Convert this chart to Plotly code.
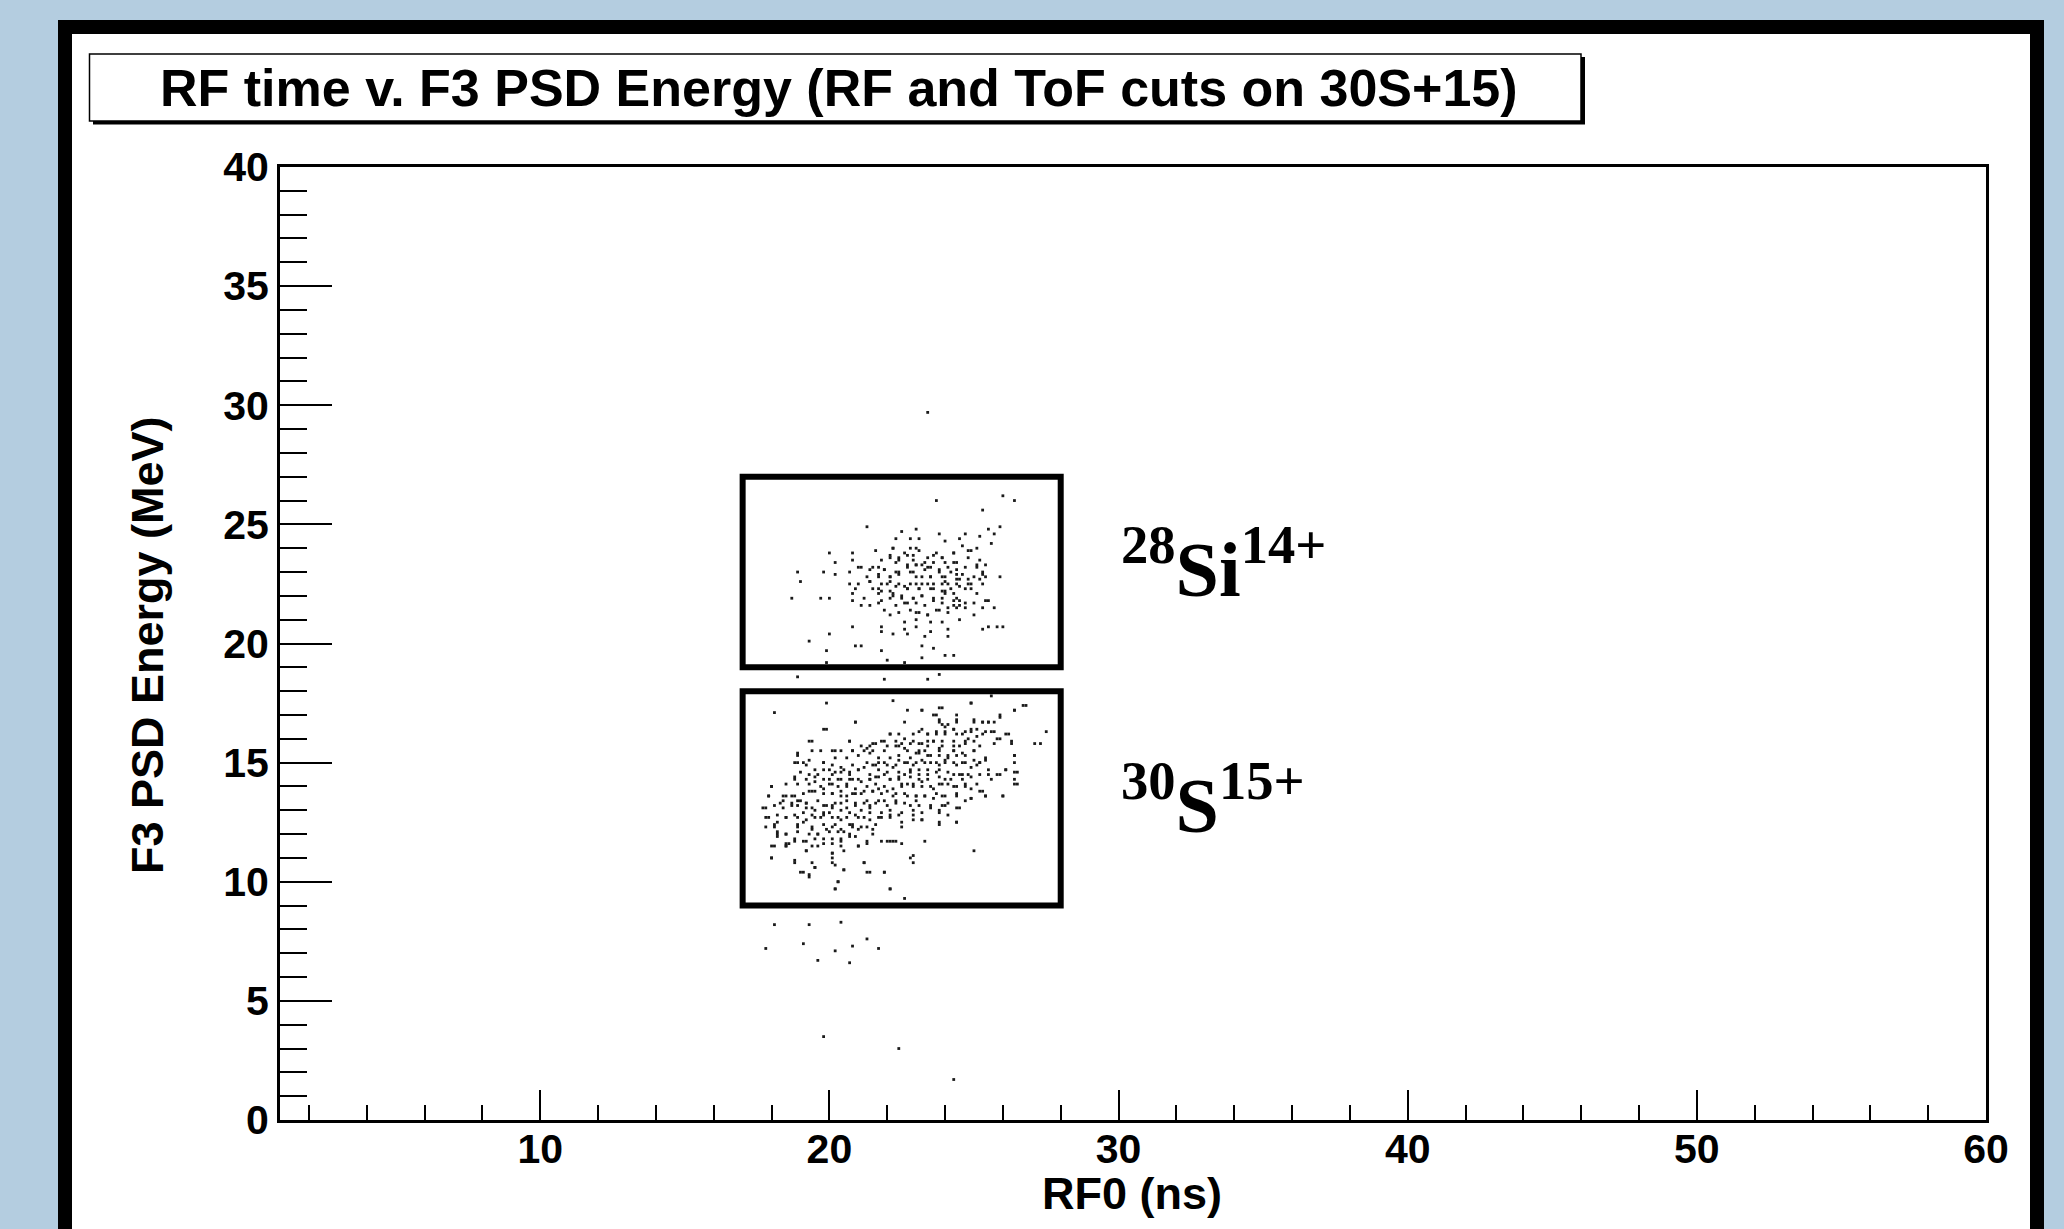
import plotly.graph_objects as go

# ---------------- data (RF0 in ns, F3 PSD energy in MeV) ----------------
si_points = [
    (26.0, 26.2), (26.4, 26.0), (23.7, 26.0), (25.3, 25.6), (25.9, 24.9), (21.3, 24.9), (23.0, 24.8),
    (22.5, 24.7), (23.8, 24.6), (25.5, 24.8), (25.7, 24.6), (24.7, 24.6), (25.2, 24.5), (22.3, 24.4),
    (22.8, 24.4), (23.1, 24.4), (24.0, 24.3), (24.5, 24.4), (25.6, 24.2), (24.6, 24.1), (25.1, 24.0),
    (24.9, 23.9), (24.8, 23.9), (22.2, 24.0), (22.8, 24.0), (23.1, 23.9), (21.6, 23.9), (20.8, 23.8),
    (24.3, 23.8), (20.0, 23.8), (22.7, 23.7), (22.9, 23.7), (23.4, 23.6), (23.6, 23.7), (23.9, 23.6),
    (24.8, 23.6), (22.1, 23.6), (22.4, 23.6), (25.2, 23.5), (20.8, 23.5), (20.2, 23.4), (21.0, 23.2),
    (21.7, 23.2), (22.3, 23.4), (22.7, 23.3), (23.0, 23.3), (23.2, 23.3), (23.5, 23.2), (24.0, 23.4),
    (24.4, 23.4), (25.1, 23.3), (25.4, 23.3), (21.4, 23.1), (21.9, 23.1), (22.4, 23.0), (22.8, 23.0),
    (23.3, 23.1), (23.8, 23.0), (24.2, 23.0), (24.6, 22.9), (25.3, 23.0), (19.8, 23.0), (20.2, 22.9),
    (20.7, 23.0), (18.9, 23.0), (21.7, 22.8), (22.1, 22.8), (23.0, 22.8), (23.5, 22.8), (23.9, 22.8),
    (24.4, 22.7), (25.0, 22.8), (25.4, 22.8), (25.9, 22.8), (19.0, 22.6), (20.7, 22.5), (21.0, 22.5),
    (21.4, 22.6), (22.0, 22.5), (22.4, 22.5), (22.8, 22.5), (23.2, 22.5), (23.6, 22.5), (24.0, 22.6),
    (24.4, 22.5), (24.8, 22.5), (25.3, 22.5), (20.9, 22.3), (21.7, 22.3), (22.1, 22.2), (22.7, 22.3),
    (23.1, 22.3), (23.5, 22.3), (23.9, 22.2), (24.2, 22.3), (24.9, 22.3), (18.7, 21.9), (19.7, 21.9),
    (20.0, 21.9), (20.8, 22.1), (21.2, 21.9), (21.7, 22.1), (22.2, 22.0), (22.5, 21.9), (22.9, 21.9),
    (23.2, 22.0), (23.6, 21.9), (24.0, 22.1), (24.4, 21.9), (25.1, 22.1), (25.4, 21.8), (20.8, 21.8),
    (21.1, 21.6), (21.4, 21.6), (21.7, 21.7), (22.3, 21.6), (22.7, 21.7), (23.0, 21.7), (23.3, 21.6),
    (23.9, 21.7), (24.3, 21.6), (24.7, 21.7), (25.0, 21.7), (25.5, 21.8), (21.9, 21.4), (22.1, 21.2),
    (22.4, 21.3), (22.8, 21.4), (23.1, 21.3), (23.4, 21.2), (23.7, 21.4), (24.1, 21.3), (24.4, 21.5),
    (24.7, 21.5), (25.3, 21.5), (25.7, 21.5), (25.0, 21.2), (24.5, 21.0), (23.0, 21.0), (23.5, 20.9),
    (23.9, 20.9), (22.6, 20.9), (20.8, 20.7), (21.8, 20.7), (21.8, 20.5), (22.6, 20.6), (23.0, 20.7),
    (23.5, 20.5), (24.1, 20.6), (25.3, 20.6), (25.5, 20.7), (25.8, 20.7), (26.0, 20.7), (20.0, 20.4),
    (22.2, 20.4), (22.7, 20.4), (23.3, 20.3), (24.1, 20.3), (19.3, 20.1), (20.9, 19.9), (21.1, 19.9),
    (21.8, 19.7), (23.2, 19.9), (23.6, 19.8), (19.9, 19.7), (23.2, 19.4), (24.0, 19.5), (24.3, 19.5),
    (22.0, 19.3), (22.6, 19.2), (19.9, 19.2),
    (22.2, 24.0), (23.0, 24.0), (23.7, 23.8), (24.3, 23.8), (22.6, 23.8), (22.1, 23.7), (21.8, 23.5),
    (22.4, 23.5), (22.9, 23.5), (23.3, 23.4), (23.9, 23.6), (24.3, 23.4), (23.6, 23.4), (21.1, 23.2),
    (21.5, 23.2), (21.9, 23.1), (22.3, 23.0), (22.7, 23.2), (23.0, 23.3), (23.4, 23.2), (23.8, 23.1),
    (24.1, 23.2), (24.4, 23.1), (24.7, 23.2), (25.1, 23.2), (25.3, 22.9), (21.3, 22.8), (21.7, 22.9),
    (22.1, 22.8), (22.4, 22.9), (22.9, 23.0), (23.2, 22.8), (23.5, 22.8), (24.0, 22.8), (24.4, 22.9),
    (24.5, 22.7), (24.8, 22.7), (25.2, 22.7), (21.4, 22.6), (21.8, 22.5), (22.1, 22.6), (22.3, 22.4),
    (22.6, 22.4), (23.0, 22.5), (23.4, 22.5), (23.9, 22.5), (24.1, 22.5), (24.5, 22.4), (24.9, 22.5),
    (21.5, 22.3), (21.8, 22.2), (22.2, 22.1), (22.7, 22.3), (23.1, 22.3), (23.6, 22.3), (24.0, 22.2),
    (24.3, 22.1), (24.7, 22.3), (21.8, 21.8), (22.1, 21.9), (22.5, 22.0), (22.9, 21.9), (23.2, 22.0),
    (23.6, 21.8), (23.9, 21.9), (24.3, 21.8), (24.5, 21.8), (22.6, 21.7), (23.0, 21.3), (23.4, 21.2),
    (23.8, 21.4), (24.1, 21.5), (24.5, 21.6),
]

s_points = [
    (25.6, 17.8), (22.2, 17.6), (19.9, 17.5), (18.1, 17.1), (24.9, 17.5), (26.7, 17.4), (26.4, 17.2),
    (22.7, 17.2), (23.2, 17.2), (23.8, 17.3), (23.7, 17.0), (25.9, 16.9), (20.9, 16.7), (22.6, 16.7),
    (23.8, 16.8), (24.4, 16.8), (25.0, 16.7), (25.3, 16.7), (25.5, 16.7), (24.1, 16.6), (23.9, 16.6),
    (19.9, 16.4), (23.2, 16.4), (23.4, 16.2), (24.0, 16.3), (24.3, 16.4), (24.7, 16.3), (24.9, 16.4),
    (25.3, 16.2), (25.6, 16.3), (26.2, 16.2), (27.5, 16.3), (22.1, 16.2), (22.4, 16.2), (22.6, 16.0),
    (22.9, 16.2), (23.7, 16.2), (24.4, 16.2), (24.8, 16.0), (25.1, 16.1), (25.8, 16.0), (19.3, 15.9),
    (20.7, 15.9), (21.1, 15.7), (21.5, 15.8), (21.8, 15.9), (22.0, 15.7), (22.5, 15.8), (22.9, 15.9),
    (23.2, 15.8), (23.6, 15.9), (23.9, 15.9), (24.3, 15.9), (24.7, 15.8), (26.3, 15.8), (27.1, 15.8),
    (27.3, 15.8), (20.2, 15.5), (19.7, 15.5), (18.9, 15.3), (20.8, 15.5), (21.3, 15.6), (21.5, 15.5),
    (21.9, 15.5), (22.3, 15.7), (22.6, 15.6), (23.1, 15.5), (23.4, 15.7), (23.8, 15.6), (24.3, 15.5),
    (24.5, 15.7), (25.0, 15.5), (18.8, 15.0), (19.3, 15.1), (19.8, 15.0), (20.2, 15.2), (20.6, 15.2),
    (21.0, 15.3), (21.4, 15.4), (21.7, 15.2), (22.1, 15.2), (22.4, 15.3), (22.8, 15.2), (23.1, 15.4),
    (23.4, 15.3), (23.8, 15.3), (24.1, 15.2), (24.4, 15.3), (24.7, 15.3), (25.4, 15.2), (26.4, 15.3),
    (26.4, 15.0), (25.2, 15.0), (19.2, 14.9), (20.1, 14.9), (20.4, 14.8), (20.8, 14.9), (21.3, 15.0),
    (21.6, 14.9), (21.9, 15.0), (22.3, 14.9), (22.6, 15.0), (23.0, 15.0), (23.3, 15.0), (23.7, 15.0),
    (24.0, 15.0), (24.4, 14.9), (24.7, 15.0), (25.1, 14.9), (26.1, 14.7), (26.4, 14.6), (19.0, 14.6),
    (19.5, 14.7), (19.8, 14.7), (20.1, 14.5), (20.4, 14.6), (20.7, 14.5), (21.0, 14.7), (21.4, 14.5),
    (21.7, 14.7), (22.0, 14.6), (22.4, 14.6), (22.8, 14.7), (23.1, 14.7), (23.4, 14.7), (23.8, 14.7),
    (24.1, 14.6), (24.5, 14.5), (24.8, 14.5), (25.5, 14.7), (25.8, 14.5), (25.6, 14.3), (18.8, 14.4),
    (19.5, 14.4), (20.0, 14.3), (20.3, 14.3), (20.7, 14.3), (21.0, 14.3), (21.4, 14.3), (21.7, 14.4),
    (22.1, 14.3), (22.4, 14.3), (22.8, 14.4), (23.1, 14.3), (23.4, 14.3), (23.8, 14.4), (24.2, 14.3),
    (24.6, 14.3), (18.0, 14.0), (18.5, 14.1), (18.9, 14.1), (19.3, 14.1), (19.7, 14.0), (20.0, 14.1),
    (20.3, 14.0), (20.6, 14.0), (20.9, 13.9), (21.3, 14.0), (21.6, 14.1), (21.9, 14.0), (22.2, 13.9),
    (22.5, 14.1), (22.9, 14.0), (23.2, 14.0), (23.6, 13.9), (23.9, 14.1), (24.3, 14.0), (24.7, 14.0),
    (25.1, 14.1), (25.2, 13.8), (26.4, 14.1), (17.9, 13.6), (18.4, 13.6), (18.8, 13.6), (19.1, 13.7),
    (19.4, 13.8), (19.8, 13.7), (20.1, 13.7), (20.4, 13.6), (20.8, 13.7), (21.1, 13.7), (21.5, 13.8),
    (21.8, 13.7), (22.2, 13.6), (22.6, 13.7), (23.0, 13.6), (23.3, 13.6), (23.7, 13.7), (24.0, 13.6),
    (24.4, 13.7), (24.9, 13.5), (25.4, 13.6), (26.0, 13.6), (17.8, 13.1), (18.1, 13.2), (18.4, 13.4),
    (18.7, 13.3), (18.9, 13.4), (19.2, 13.3), (19.6, 13.4), (19.9, 13.2), (20.2, 13.3), (20.6, 13.4),
    (20.9, 13.3), (21.3, 13.4), (21.6, 13.3), (21.9, 13.4), (22.3, 13.4), (22.6, 13.3), (23.0, 13.4),
    (23.5, 13.1), (23.9, 13.2), (24.1, 13.3), (24.5, 13.1), (19.2, 13.1), (19.5, 13.0), (19.8, 12.9),
    (20.1, 13.1), (20.4, 13.0), (20.7, 12.9), (21.1, 13.0), (21.4, 13.1), (21.8, 12.9), (22.1, 13.0),
    (22.5, 12.9), (22.9, 13.0), (23.2, 12.9), (17.8, 12.7), (18.2, 12.5), (18.5, 12.7), (18.8, 12.8),
    (19.2, 12.6), (19.5, 12.7), (19.8, 12.8), (20.1, 12.7), (20.4, 12.6), (20.7, 12.4), (21.0, 12.7),
    (21.4, 12.6), (21.8, 12.7), (22.1, 12.7), (22.5, 12.5), (22.9, 12.6), (23.2, 12.6), (23.8, 12.4),
    (24.4, 12.5), (22.5, 12.3), (18.1, 12.3), (18.9, 12.4), (19.4, 12.3), (19.8, 12.4), (20.1, 12.3),
    (20.4, 12.2), (20.8, 12.4), (21.1, 12.3), (21.5, 12.2), (18.2, 12.0), (18.5, 12.0), (18.9, 12.1),
    (19.3, 12.0), (19.6, 12.0), (20.0, 12.1), (20.3, 12.1), (20.7, 12.0), (20.9, 11.9), (21.3, 11.6),
    (21.5, 12.0), (21.8, 11.7), (22.1, 11.7), (22.3, 11.7), (22.5, 11.6), (23.3, 11.7), (18.5, 11.6),
    (18.8, 11.7), (19.2, 11.7), (19.5, 11.8), (19.8, 11.8), (20.1, 11.6), (20.4, 11.7), (18.1, 11.5),
    (18.5, 11.5), (19.2, 11.3), (20.1, 11.2), (20.5, 11.3), (21.0, 11.5), (18.0, 11.0), (18.8, 10.9),
    (20.1, 11.0), (20.2, 10.7), (21.2, 10.8), (22.8, 11.0), (22.9, 11.1), (22.9, 10.8), (25.0, 11.3),
    (19.1, 10.4), (19.3, 10.2), (19.5, 10.6), (20.5, 10.5), (21.4, 10.4), (21.9, 10.4), (20.3, 10.0),
    (20.2, 9.7), (22.1, 9.7), (22.6, 9.3),
    # additional points read from the left half of the cut
    (18.9, 15.4), (18.9, 15.0), (19.1, 15.0), (19.4, 15.5), (19.8, 15.0), (20.1, 15.5), (20.4, 15.5),
    (20.7, 15.9), (20.9, 16.7), (19.8, 16.4), (19.4, 15.9), (20.8, 15.5), (21.2, 15.5), (21.4, 15.7),
    (21.6, 15.8), (21.9, 15.9), (22.1, 16.2), (22.3, 15.9), (22.4, 15.7), (20.0, 14.7), (20.2, 14.6),
    (20.5, 14.7), (20.7, 14.6), (21.0, 14.7), (21.2, 14.8), (21.5, 14.9), (21.7, 15.0), (22.0, 14.9),
    (22.2, 14.8), (22.4, 15.1), (19.3, 14.5), (19.6, 14.5), (19.2, 14.3), (19.5, 14.2), (19.8, 14.3),
    (20.1, 14.1), (20.4, 14.3), (20.6, 14.1), (20.8, 14.3), (21.1, 14.2), (21.4, 14.3), (21.6, 14.4),
    (21.9, 14.5), (22.1, 14.3), (22.4, 14.4), (18.8, 14.3), (18.5, 13.6), (18.7, 13.6), (19.0, 13.4),
    (19.3, 13.8), (19.5, 13.8), (19.8, 13.9), (20.1, 13.7), (20.4, 13.8), (20.6, 13.6), (20.9, 13.7),
    (21.2, 13.8), (21.5, 13.8), (21.7, 13.9), (22.0, 13.8), (22.3, 13.7), (22.5, 14.0), (17.9, 13.6),
    (18.0, 14.0), (18.3, 13.3), (17.7, 13.1), (18.4, 13.1), (18.7, 13.2), (18.9, 13.2), (19.2, 13.3),
    (19.4, 13.1), (19.8, 13.2), (20.1, 13.2), (20.4, 13.3), (20.6, 13.1), (20.9, 13.2), (21.2, 13.3),
    (21.4, 13.2), (21.7, 13.4), (22.0, 13.2), (22.3, 13.3), (22.4, 12.8), (17.9, 12.7), (18.2, 12.8),
    (18.5, 12.7), (18.9, 12.7), (19.1, 12.9), (19.4, 12.8), (19.7, 12.7), (20.0, 12.9), (20.3, 12.7),
    (20.6, 12.7), (20.9, 12.8), (21.2, 12.7), (21.4, 12.9), (21.7, 12.7), (22.1, 12.8), (18.1, 12.4),
    (17.8, 12.3), (18.2, 12.1), (18.5, 12.0), (18.9, 12.3), (19.1, 12.5), (19.4, 12.2), (19.6, 12.0),
    (19.9, 12.2), (20.2, 12.4), (20.5, 12.1), (20.8, 12.3), (21.0, 12.2), (21.3, 12.3), (21.6, 12.4),
    (22.0, 11.7), (22.2, 11.7), (18.2, 11.9), (18.6, 11.6), (18.8, 11.8), (19.1, 11.7), (19.4, 11.5),
    (19.8, 11.6), (20.1, 11.8), (20.4, 11.8), (20.7, 11.9), (21.0, 11.5), (21.3, 11.7), (18.0, 11.5),
    (18.0, 11.0), (18.5, 11.5), (19.2, 11.3), (19.6, 11.5), (20.1, 11.2), (20.4, 11.5), (20.1, 10.8),
    (18.8, 10.8), (19.4, 10.8), (19.5, 10.6), (19.0, 10.4), (19.3, 10.3), (21.2, 10.8), (20.5, 10.5),
    (21.3, 10.4), (21.9, 10.4), (20.3, 10.0), (20.2, 9.7), (22.1, 9.7),
    # additional points read from the right half of the cut
    (23.2, 17.2), (23.6, 17.0), (23.9, 17.3), (24.4, 17.0), (24.4, 16.7), (23.8, 16.7), (24.0, 16.5),
    (25.0, 16.8), (25.3, 16.7), (25.5, 16.7), (25.7, 16.7), (26.8, 17.4), (26.4, 17.2), (25.9, 17.0),
    (24.9, 17.5), (23.1, 16.3), (23.4, 16.2), (23.7, 16.3), (24.0, 16.2), (24.3, 16.4), (24.6, 16.2),
    (24.9, 16.3), (25.1, 16.4), (25.4, 16.3), (25.7, 16.3), (26.1, 16.2), (26.3, 15.9), (22.8, 15.8),
    (23.1, 15.8), (23.4, 15.9), (23.6, 15.9), (23.9, 15.7), (24.3, 15.7), (24.7, 15.9), (25.0, 15.9),
    (25.2, 15.7), (25.7, 15.8), (25.9, 16.0), (22.7, 15.5), (23.0, 15.4), (23.3, 15.5), (23.5, 15.3),
    (23.8, 15.5), (24.1, 15.3), (24.3, 15.5), (24.6, 15.4), (25.0, 15.5), (25.2, 15.0), (25.4, 15.1),
    (26.4, 15.3), (22.7, 15.0), (22.9, 14.9), (23.2, 15.1), (23.5, 15.0), (23.8, 14.9), (24.0, 15.1),
    (24.3, 15.0), (24.6, 15.0), (24.9, 14.8), (25.0, 15.1), (26.1, 14.7), (26.5, 14.6), (22.6, 14.5),
    (22.8, 14.6), (23.1, 14.5), (23.4, 14.5), (23.7, 14.6), (24.0, 14.3), (24.3, 14.5), (24.6, 14.5),
    (24.9, 14.4), (25.2, 14.5), (25.5, 14.5), (25.9, 14.5), (26.4, 14.3), (22.7, 14.1), (22.9, 14.1),
    (23.2, 14.2), (23.5, 14.0), (23.8, 14.1), (24.1, 14.1), (24.4, 14.0), (24.7, 14.1), (24.9, 13.9),
    (25.3, 13.8), (26.5, 14.1), (22.7, 13.6), (23.0, 13.6), (23.3, 13.6), (23.6, 13.5), (23.9, 13.6),
    (24.4, 13.6), (24.7, 13.4), (24.9, 13.5), (25.4, 13.6), (26.0, 13.6), (22.8, 13.2), (23.1, 13.2),
    (23.5, 13.2), (23.8, 13.0), (24.0, 13.2), (24.4, 13.1), (22.9, 12.8), (23.2, 12.6), (23.8, 12.9),
    (24.1, 12.8), (24.4, 12.5), (23.8, 12.5),
]

stray_points = [
    (23.4, 29.7), (18.9, 18.6), (21.9, 18.5), (23.4, 18.5), (23.8, 18.7),
    (18.1, 8.2), (19.3, 8.2), (20.4, 8.3), (17.8, 7.2), (19.1, 7.4), (20.2, 7.1), (20.8, 7.3),
    (21.3, 7.6), (21.7, 7.2), (19.6, 6.7), (20.7, 6.6), (19.8, 3.5), (22.4, 3.0), (24.3, 1.7),
]

# cut regions: (rf_min, rf_max, energy_min, energy_max)
cut_boxes = [(17, 28, 19, 27), (17, 28, 9, 18)]
# ion labels: (rf, energy, mass number, symbol, charge)
ion_labels = [(30, 23.35, "28", "Si", "14+"), (30, 13.45, "30", "S", "15+")]

title_text = "RF time v. F3 PSD Energy (RF and ToF cuts on 30S+15)"
x_title = "RF0 (ns)"
y_title = "F3 PSD Energy (MeV)"
x_range = [1, 60]
y_range = [0, 40]

# ---------------- layout geometry (pixels) ----------------
W, H = 2064, 1229
PL, PR, PT, PB = 280, 1986, 167, 1120   # plot area edges


def px(x):
    return (x - PL) / (PR - PL)


def py(y):
    return (PB - y) / (PB - PT)


SANS = "Liberation Sans, Arial, Helvetica, sans-serif"
SERIF = "Liberation Serif, Times New Roman, serif"

all_pts = si_points + s_points + stray_points
fig = go.Figure()
fig.add_trace(go.Scatter(
    x=[p[0] for p in all_pts], y=[p[1] for p in all_pts], mode="markers",
    marker=dict(symbol="square", size=2.8, color="#1a1a1a", line=dict(width=0)),
    hoverinfo="skip", showlegend=False,
))

shapes = [
    # outer black frame with white panel
    dict(type="rect", xref="paper", yref="paper", layer="below",
         x0=px(65), x1=px(2037), y0=py(1260), y1=py(27),
         fillcolor="white", line=dict(color="black", width=14)),
    # title box shadow
    dict(type="rect", xref="paper", yref="paper", layer="above",
         x0=px(93), x1=px(1585), y0=py(124.5), y1=py(57),
         fillcolor="black", line=dict(width=0)),
    # title box
    dict(type="rect", xref="paper", yref="paper", layer="above",
         x0=px(89.5), x1=px(1581), y0=py(121), y1=py(54),
         fillcolor="white", line=dict(color="black", width=1.5)),
]
for (x0, x1, y0, y1) in cut_boxes:
    shapes.append(dict(type="rect", xref="x", yref="y", x0=x0, x1=x1, y0=y0, y1=y1,
                       line=dict(color="black", width=6), fillcolor="rgba(0,0,0,0)", layer="above"))

annotations = [
    dict(text=title_text, xref="paper", yref="paper", x=px(839), y=py(88),
         xanchor="center", yanchor="middle", showarrow=False,
         font=dict(family=SANS, size=52, color="black", weight="bold")),
    dict(text=x_title, xref="paper", yref="paper", x=px(1132), y=py(1193),
         xanchor="center", yanchor="middle", showarrow=False,
         font=dict(family=SANS, size=45, color="black", weight="bold")),
    dict(text=y_title, xref="paper", yref="paper", x=px(147), y=py(645), textangle=-90,
         xanchor="center", yanchor="middle", showarrow=False,
         font=dict(family=SANS, size=45, color="black", weight="bold")),
]
for (lx, ly, mass, sym, charge) in ion_labels:
    annotations.append(dict(
        text=f"<b><sup>{mass}</sup>{sym}<sup>{charge}</sup></b>", xref="x", yref="y",
        x=lx, y=ly, xanchor="left", yanchor="middle", showarrow=False,
        font=dict(family=SERIF, size=78, color="black")))

tickfont = dict(family=SANS, size=41, color="black", weight="bold")

fig.update_layout(
    width=W, height=H,
    margin=dict(l=PL, r=W - PR, t=PT, b=H - PB, pad=0),
    paper_bgcolor="#b4cde0", plot_bgcolor="white",
    shapes=shapes, annotations=annotations, showlegend=False,
    xaxis=dict(range=x_range, tick0=0, dtick=10, ticks="inside", ticklen=30, tickwidth=2,
               tickcolor="black", showline=True, linewidth=3, linecolor="black", mirror=True,
               showgrid=False, zeroline=False, tickfont=tickfont, ticklabelstandoff=-9,
               minor=dict(tick0=0, dtick=2, ticks="inside", ticklen=15, tickwidth=2,
                          tickcolor="black", showgrid=False)),
    yaxis=dict(range=y_range, tick0=0, dtick=5, ticks="inside", ticklen=52, tickwidth=2,
               tickcolor="black", showline=True, linewidth=3, linecolor="black", mirror=True,
               showgrid=False, zeroline=False, tickfont=tickfont, ticklabelstandoff=0,
               minor=dict(tick0=0, dtick=1, ticks="inside", ticklen=27, tickwidth=2,
                          tickcolor="black", showgrid=False)),
)

fig.write_html(
    "out.html",
    config={"displayModeBar": False},
    post_script="document.body.style.margin='0';document.body.style.padding='0';"
                "document.body.style.overflow='hidden';",
)
